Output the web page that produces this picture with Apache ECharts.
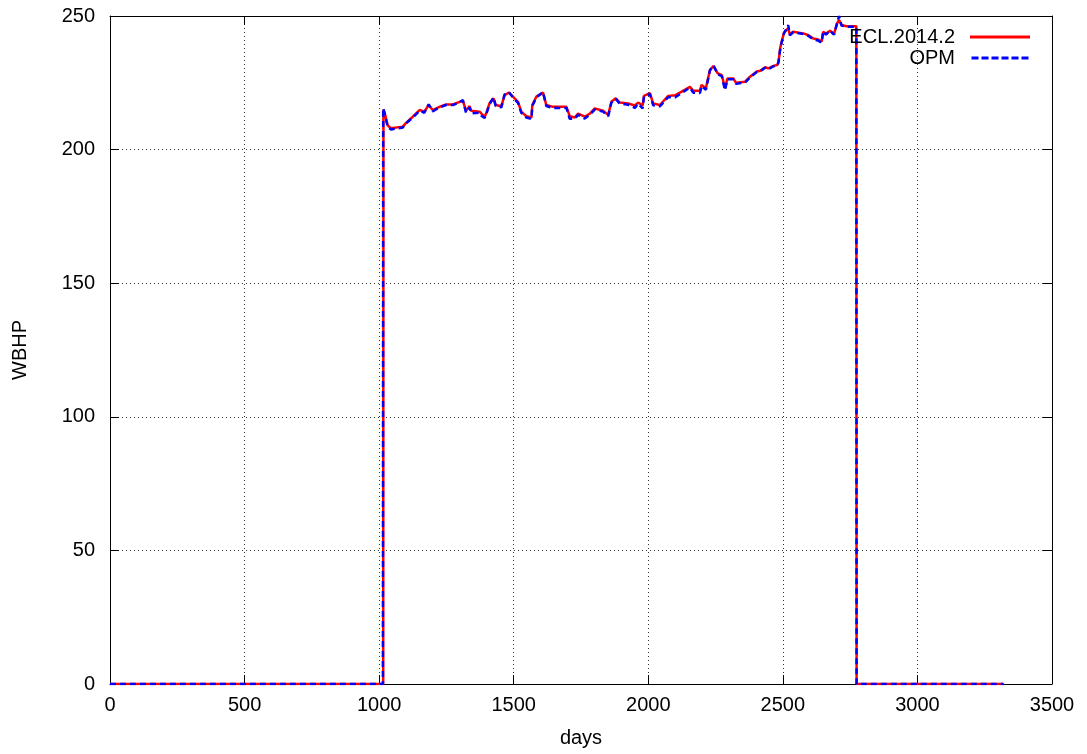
<!DOCTYPE html>
<html>
<head>
<meta charset="utf-8">
<script src="https://cdn.jsdelivr.net/npm/echarts@6/dist/echarts.min.js"></script>
<style>
html,body{margin:0;padding:0;background:#fff;}
#chart{width:1087px;height:754px;}
</style>
</head>
<body>
<div id="chart"></div>
<script>
var xTicks = [0, 500, 1000, 1500, 2000, 2500, 3000, 3500];
var yTicks = [0, 50, 100, 150, 200, 250];
var seriesNames = ['ECL.2014.2', 'OPM'];

var eclData = [
[0,0],[1015,0],[1016,215],[1020,214],[1032,209],[1044,208],[1088,208.6],[1100,210],[1125,212.3],[1150,214.8],[1168,214.2],[1184,216.7],[1199,214.8],[1224,216],[1249,216.9],[1274,216.9],[1292,217.6],[1311,218.3],[1323,214.5],[1336,216.3],[1342,214.5],[1373,214.2],[1379,213.5],[1392,212.2],[1400,214.2],[1410,217.3],[1425,219.2],[1433,216.7],[1454,216.2],[1466,220.4],[1482,221.3],[1497,219.8],[1516,217.9],[1528,214.2],[1547,212.5],[1566,212],[1569,216.7],[1584,219.8],[1609,221.3],[1621,216.7],[1646,216],[1696,216],[1708,212.5],[1727,212],[1739,213.5],[1764,212.3],[1783,213.5],[1801,215.4],[1832,214.6],[1851,213],[1863,217.9],[1879,219.2],[1894,217.6],[1925,217.3],[1950,216.5],[1962,217.6],[1979,216.5],[1984,220.1],[2006,221.1],[2018,217.3],[2043,216.7],[2074,220.1],[2099,220.3],[2124,221.7],[2155,223.5],[2167,222],[2192,222],[2198,224.2],[2214,223],[2229,229.8],[2242,231.3],[2258,228.5],[2273,227.9],[2285,223],[2294,226.6],[2316,226.6],[2326,225],[2360,225.4],[2378,227.3],[2403,229.2],[2416,229.5],[2434,230.8],[2446,230.4],[2465,231.3],[2480,231.7],[2484,233],[2491,238.5],[2504,243.7],[2520,245.5],[2526,243],[2538,244.1],[2575,243.5],[2594,242.9],[2613,241.6],[2631,241.2],[2644,240.4],[2650,244.1],[2660,243.3],[2675,244.5],[2690,243.3],[2702,247.3],[2709,248.5],[2718,246.6],[2737,246.2],[2773,246.2],[2774,0],[3320,0]
];

var opmData = [
[0,0],[1014,0],[1015,215.5],[1020,213.5],[1032,208.5],[1044,207.5],[1088,208.3],[1100,209.8],[1125,212],[1150,214.5],[1168,213.8],[1184,216.9],[1199,214.3],[1224,215.8],[1249,216.7],[1274,216.7],[1292,217.4],[1311,218.5],[1323,213.8],[1336,215.8],[1342,213.6],[1373,213.8],[1379,212.8],[1392,211.8],[1400,213.8],[1410,217],[1425,219.5],[1433,216.3],[1454,215.8],[1466,220.6],[1482,221.5],[1497,219.5],[1516,217.5],[1528,213.8],[1547,212],[1566,211.5],[1569,216.3],[1584,219.5],[1609,221.5],[1621,216.3],[1646,215.6],[1696,215.6],[1708,211.5],[1727,211.6],[1739,213],[1764,211.6],[1783,213.1],[1801,215],[1832,214.2],[1851,212.5],[1863,217.6],[1879,219],[1894,217.2],[1925,216.8],[1950,215.6],[1962,217.2],[1979,215.4],[1984,219.8],[2006,220.8],[2018,216.6],[2043,216.2],[2074,219.6],[2099,219.5],[2124,221.2],[2155,223.2],[2167,221.3],[2192,221.2],[2198,223.8],[2214,222.4],[2229,229.6],[2242,231.5],[2258,228.2],[2273,227.5],[2285,222.2],[2294,226.3],[2316,226.3],[2326,224.6],[2360,225.1],[2378,227],[2403,229],[2416,229.3],[2434,230.6],[2446,230],[2465,231.2],[2480,231.5],[2484,232.8],[2491,238.3],[2504,243.5],[2520,246.6],[2526,242.8],[2538,243.9],[2575,243.3],[2594,242.6],[2613,241.2],[2631,240.8],[2644,240],[2650,244.3],[2660,243],[2675,244.6],[2690,243],[2702,247.5],[2709,250],[2718,246.4],[2737,246],[2773,246],[2774,0],[3320,0]
];

var font = 'Liberation Sans, Arial, sans-serif';
var fs = 20;
var chart = echarts.init(document.getElementById('chart'), null, {renderer: 'canvas'});

function axisBase(pos, show) {
  return {
    type: 'value',
    position: pos,
    axisLine: {show: true, onZero: false, lineStyle: {color: '#000', width: 1}},
    axisTick: {show: true, inside: true, length: 9, lineStyle: {color: '#000', width: 1}},
    axisLabel: {show: show, color: '#000', fontFamily: font, fontSize: fs, formatter: function (v) { return String(v); }},
    splitLine: {show: show, lineStyle: {color: '#333', width: 1, type: [1, 3]}}
  };
}

var xBottom = axisBase('bottom', true);
xBottom.min = xTicks[0]; xBottom.max = xTicks[xTicks.length - 1]; xBottom.interval = xTicks[1] - xTicks[0];
xBottom.name = 'days'; xBottom.nameLocation = 'middle'; xBottom.nameGap = 44;
xBottom.nameTextStyle = {color: '#000', fontFamily: font, fontSize: fs};
xBottom.axisLabel.margin = 11;
var xTop = axisBase('top', false);
xTop.min = xBottom.min; xTop.max = xBottom.max; xTop.interval = xBottom.interval;

var yLeft = axisBase('left', true);
yLeft.min = yTicks[0]; yLeft.max = yTicks[yTicks.length - 1]; yLeft.interval = yTicks[1] - yTicks[0];
yLeft.name = 'WBHP'; yLeft.nameLocation = 'middle'; yLeft.nameGap = 80; yLeft.nameRotate = 90;
yLeft.nameTextStyle = {color: '#000', fontFamily: font, fontSize: fs};
yLeft.axisLabel.margin = 15;
var yRight = axisBase('right', false);
yRight.min = yLeft.min; yRight.max = yLeft.max; yRight.interval = yLeft.interval;

var solidIcon = 'path://M0,0H60V3H0Z';
var dashIcon = 'path://M0,0H7V3H0Z M10,0H17V3H10Z M20,0H27V3H20Z M30,0H37V3H30Z M40,0H47V3H40Z M50,0H57V3H50Z';

chart.setOption({
  animation: false,
  backgroundColor: '#fff',
  grid: {left: 110, right: 35, top: 16, bottom: 70, containLabel: false},
  xAxis: [xBottom, xTop],
  yAxis: [yLeft, yRight],
  legend: {
    orient: 'vertical',
    right: 52,
    top: 22,
    align: 'right',
    itemWidth: 60,
    itemHeight: 3,
    itemGap: 1,
    textStyle: {color: '#000', fontFamily: font, fontSize: fs, padding: [0, 10, 0, 0], lineHeight: 16},
    data: [
      {name: seriesNames[0], icon: solidIcon},
      {name: seriesNames[1], icon: dashIcon}
    ]
  },
  series: [
    {
      name: seriesNames[0], type: 'line', data: eclData, showSymbol: false, symbol: 'none',
      lineStyle: {color: '#ff0000', width: 2.5, type: 'solid'}, itemStyle: {color: '#ff0000'}
    },
    {
      name: seriesNames[1], type: 'line', data: opmData, showSymbol: false, symbol: 'none',
      lineStyle: {color: '#0000ff', width: 2.5, type: [6, 4]}, itemStyle: {color: '#0000ff'}
    }
  ]
});
</script>
</body>
</html>
